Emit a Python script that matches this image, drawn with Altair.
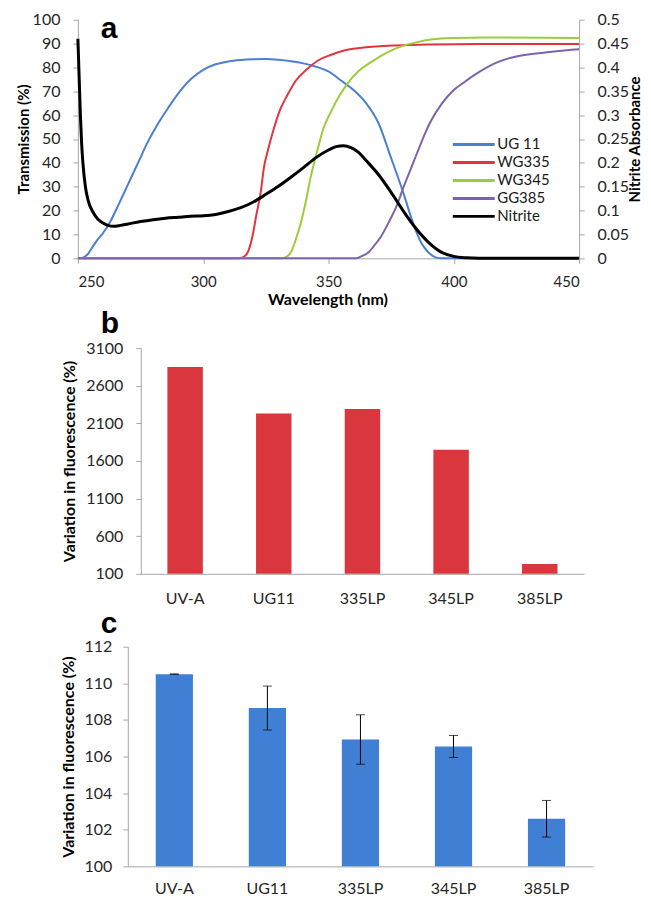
import altair as alt
import pandas as pd

# ---------------- Panel a : transmission spectra ----------------
series_names = ["UG 11", "WG335", "WG345", "GG385", "Nitrite"]
series_colors = ["#4a80cf", "#e2343f", "#9ccc3c", "#7d63a8", "#000000"]

ug11_nm = [250, 252, 254, 256, 258, 260, 263, 266, 270, 274, 278, 282, 286, 290, 295, 300,
           305, 310, 315, 320, 325, 330, 335, 340, 345, 350, 355, 360, 365, 370, 375, 380,
           384, 387, 390, 393, 395, 450]
ug11_t = [0, 0.3, 1.8, 5, 8, 10.5, 15.5, 22, 31, 40, 49, 56.5, 63, 69, 75, 79,
          81.3, 82.5, 83.1, 83.4, 83.5, 83.2, 82.6, 81.7, 80.3, 78.3, 74.5, 70.5, 65, 56.5, 42, 27,
          14, 6.5, 2.3, 0.3, 0, 0]

wg335_nm = [250, 314, 316, 318, 320, 321, 323, 324.2, 326, 328.2, 331, 333.5, 337, 341.5, 346,
            350.8, 357, 364, 377, 390, 410, 450]
wg335_t = [0, 0, 0.5, 3, 11, 17, 28, 37.8, 46, 54.4, 63, 68.2, 74.5, 79.3, 83,
           85.2, 87.3, 88.3, 89.2, 89.6, 89.8, 89.8]

wg345_nm = [250, 331, 333, 335, 337, 339, 341, 342.8, 344.5, 346.1, 348, 350.8, 354, 357.4, 362,
            366.7, 372, 377.4, 385, 391, 400, 413, 450]
wg345_t = [0, 0, 0.5, 2.5, 8, 15, 24, 33.6, 41, 47.4, 54.5, 61, 67.5, 73, 78.5,
           82, 85.5, 88.2, 90.5, 91.7, 92.3, 92.5, 92.3]

gg385_nm = [250, 361, 363, 366, 368, 370.7, 374, 377.4, 380, 384, 387, 390.6, 395, 400, 404,
            410, 417, 425, 431, 440, 450]
gg385_t = [0, 0, 0.8, 2.5, 5, 8.7, 15, 22.5, 30, 40.5, 48.5, 57, 64.5, 70.5, 73.7,
           78, 82, 84.6, 85.6, 86.7, 87.6]

nitrite_nm = [250, 250.5, 251, 251.5, 252, 253, 254, 256, 258, 260, 262, 264, 267, 270, 275, 280,
              285, 290, 295, 300, 305, 310, 315, 320, 325, 330, 335, 340, 345, 350, 353, 356,
              359, 362, 365, 370, 375, 380, 385, 390, 395, 400, 405, 410, 430, 450]
nitrite_abs = [0.46, 0.38, 0.30, 0.24, 0.20, 0.15, 0.123, 0.097, 0.082, 0.074, 0.069, 0.067, 0.069,
               0.072, 0.077, 0.081, 0.084, 0.086, 0.088, 0.089, 0.092, 0.098, 0.106, 0.118, 0.134,
               0.151, 0.17, 0.19, 0.211, 0.227, 0.234, 0.236, 0.232, 0.222, 0.205, 0.175, 0.138,
               0.098, 0.062, 0.033, 0.013, 0.004, 0.001, 0, 0, 0]

left_ticks = [0, 10, 20, 30, 40, 50, 60, 70, 80, 90, 100]
right_ticks = [0, 0.05, 0.1, 0.15, 0.2, 0.25, 0.3, 0.35, 0.4, 0.45, 0.5]
wl_ticks = [250, 300, 350, 400, 450]

# ---------------- Panels b and c ----------------
categories = ["UV-A", "UG11", "335LP", "345LP", "385LP"]
b_values = [2850, 2230, 2290, 1750, 230]
b_ticks = [100, 600, 1100, 1600, 2100, 2600, 3100]
c_values = [110.5, 108.65, 106.93, 106.55, 102.6]
c_errors = [0.01, 1.2, 1.35, 0.6, 1.0]
c_ticks = [100, 102, 104, 106, 108, 110, 112]

LABEL_FONT = "Lato"
LETTER_FONT = "Liberation Sans"
AX = dict(labelFont=LABEL_FONT, labelColor="#262626", domainColor="#a6a6a6",
          tickColor="#a6a6a6", titleFont=LABEL_FONT, titleFontWeight="bold",
          titleColor="#000000", grid=False)

# ---- build tables ----
rows = []
for name, xs, ys in [("UG 11", ug11_nm, ug11_t), ("WG335", wg335_nm, wg335_t),
                     ("WG345", wg345_nm, wg345_t), ("GG385", gg385_nm, gg385_t)]:
    for x, y in zip(xs, ys):
        rows.append({"series": name, "nm": x, "t": y})
filters_df = pd.DataFrame(rows)
nitrite_df = pd.DataFrame({"series": "Nitrite", "nm": nitrite_nm, "a": nitrite_abs})

color_scale = alt.Scale(domain=series_names, range=series_colors)
legend = alt.Legend(title=None, orient="none", legendX=471, legendY=116, padding=0,
                    symbolType="M-4.6,0H1", symbolSize=225, symbolStrokeWidth=3,
                    labelFont=LABEL_FONT, labelFontSize=15, labelColor="#1a1a1a",
                    labelOffset=1, rowPadding=1)

x_a = alt.X("nm:Q", scale=alt.Scale(domain=[250, 450], nice=False, zero=False),
            axis=alt.Axis(values=wl_ticks, title="Wavelength (nm)", labelFontSize=15,
                          tickSize=5, labelPadding=11, titleFontSize=16, titleX=250,
                          titleY=41, titleBaseline="middle", **AX))

filters = alt.Chart(filters_df).mark_line(strokeWidth=2, interpolate="monotone").encode(
    x=x_a,
    y=alt.Y("t:Q", scale=alt.Scale(domain=[0, 100], nice=False),
            axis=alt.Axis(values=left_ticks, title="Transmission (%)", labelFontSize=16,
                          tickSize=5, labelPadding=13, titleFontSize=15, titleX=-54,
                          titleAngle=270, titleBaseline="middle", **AX)),
    color=alt.Color("series:N", scale=color_scale, sort=series_names, legend=legend),
)
nitrite = alt.Chart(nitrite_df).mark_line(strokeWidth=3, interpolate="monotone").encode(
    x=x_a,
    y=alt.Y("a:Q", scale=alt.Scale(domain=[0, 0.5], nice=False),
            axis=alt.Axis(values=right_ticks, orient="right", format="~g",
                          title="Nitrite Absorbance", labelFontSize=16, tickSize=5,
                          labelPadding=13, titleFontSize=15, titleX=55, titleAngle=270,
                          titleBaseline="middle", **AX)),
    color=alt.Color("series:N", scale=color_scale, sort=series_names, legend=legend),
)
chart_a = alt.layer(filters, nitrite).resolve_scale(y="independent").properties(
    width=502, height=239,
    title=alt.TitleParams("a", anchor="start", frame="group", font=LETTER_FONT,
                          fontWeight="bold", fontSize=30, color="#000", baseline="alphabetic",
                          dx=23, dy=56, offset=0))

# ---- panel b ----
b_df = pd.DataFrame({"cat": categories, "v": b_values})
chart_b = alt.Chart(b_df).mark_bar(color="#d9363e").encode(
    x=alt.X("cat:N", sort=categories, scale=alt.Scale(paddingInner=0.6, paddingOuter=0.3),
            axis=alt.Axis(title=None, labelAngle=0, ticks=False, labelPadding=17,
                          labelFontSize=16, **AX)),
    y=alt.Y("v:Q", scale=alt.Scale(domain=[100, 3100], nice=False, zero=False),
            axis=alt.Axis(values=b_ticks, format="d", title="Variation in fluorescence (%)",
                          labelFontSize=16, tickSize=5, labelPadding=13, titleFontSize=16,
                          titleX=-71, titleAngle=270, titleBaseline="middle", **AX)),
    y2=alt.datum(100),
).properties(width=444, height=226,
             title=alt.TitleParams("b", anchor="start", frame="group", font=LETTER_FONT,
                                   fontWeight="bold", fontSize=30, color="#000",
                                   baseline="alphabetic", dx=-40, dy=26, offset=3))

# ---- panel c ----
c_df = pd.DataFrame({"cat": categories, "v": c_values, "e": c_errors})
c_df["lo"] = c_df["v"] - c_df["e"]
c_df["hi"] = c_df["v"] + c_df["e"]
xc = alt.X("cat:N", sort=categories, scale=alt.Scale(paddingInner=0.6, paddingOuter=0.3),
           axis=alt.Axis(title=None, labelAngle=0, ticks=False, labelPadding=14,
                         labelFontSize=16, **AX))
yc_scale = alt.Scale(domain=[100, 112], nice=False, zero=False)
yc_axis = alt.Axis(values=c_ticks, format="d", title="Variation in fluorescence (%)",
                   labelFontSize=16, tickSize=5, labelPadding=11, titleFontSize=16,
                   titleX=-59, titleAngle=270, titleBaseline="middle", **AX)
bars_c = alt.Chart(c_df).mark_bar(color="#3f7fd4").encode(
    x=xc,
    y=alt.Y("v:Q", scale=yc_scale, axis=yc_axis),
    y2=alt.datum(100),
)
err_rule = alt.Chart(c_df).mark_rule(color="#000", strokeWidth=1).encode(
    x=xc, y=alt.Y("lo:Q", scale=yc_scale, axis=yc_axis), y2="hi:Q")
err_hi = alt.Chart(c_df).mark_tick(color="#000", thickness=1, size=9).encode(
    x=xc, y=alt.Y("hi:Q", scale=yc_scale, axis=yc_axis))
err_lo = alt.Chart(c_df).mark_tick(color="#000", thickness=1, size=9).encode(
    x=xc, y=alt.Y("lo:Q", scale=yc_scale, axis=yc_axis))
chart_c = alt.layer(bars_c, err_rule, err_hi, err_lo).properties(
    width=466, height=220,
    title=alt.TitleParams("c", anchor="start", frame="group", font=LETTER_FONT,
                          fontWeight="bold", fontSize=30, color="#000",
                          baseline="alphabetic", dx=-27, dy=24, offset=0))


def spacer(w):
    return alt.Chart(pd.DataFrame({"s": [0]})).mark_point(opacity=0, size=1).properties(
        width=w, height=1)


row_a = alt.hconcat(spacer(7.5), chart_a, spacing=0)
row_b = alt.hconcat(spacer(53), chart_b, spacing=0)
row_c = alt.hconcat(spacer(52), chart_c, spacing=0)

chart = alt.vconcat(row_a, row_b, row_c, spacing=0).properties(
    padding={"left": 0, "top": 2, "right": 0, "bottom": 0},
    background="white",
).configure_view(stroke="transparent")

chart.save("out.html", embed_options={"renderer": "svg", "actions": False})
